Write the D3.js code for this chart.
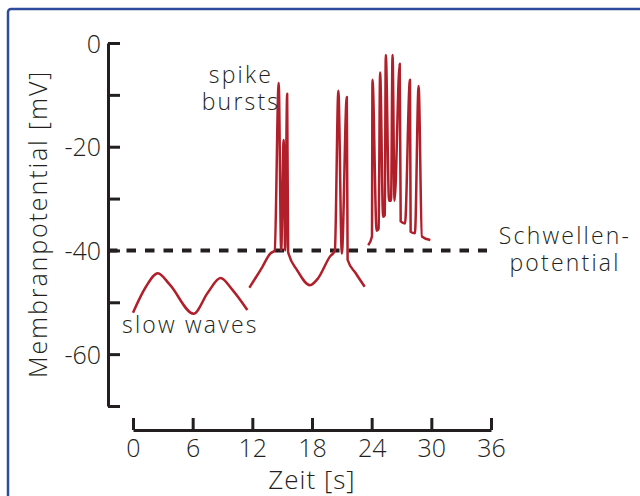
<!DOCTYPE html>
<html>
<head>
<meta charset="utf-8">
<script src="https://cdn.jsdelivr.net/npm/d3@7"></script>
<style>
  body { margin: 0; background: #fff; }
  svg { display: block; }
  text { font-family: 'Open Sans', sans-serif; font-weight: 300; fill: #231f20; }
</style>
</head>
<body>
<svg id="chart"></svg>
<script>
const width = 640
const height = 496

// time [s], membrane potential [mV]
const slowWaves = [
  [0, -52], [1.3, -47.0], [2.5, -44.4], [3.7, -46.6], [6.1, -52.2],
  [7.5, -48.2], [8.8, -45.3], [10.0, -47.6], [11.5, -51.5],
]
const burstTrace1 = [
  [11.7, -47.2], [13.0, -43.2], [13.8, -40.6], [14.25, -40],
  [14.65, -7.7], [14.9, -40], [15.15, -18.7], [15.3, -40],
  [15.5, -9.8], [15.6, -40.3], [16.5, -43.8], [17.8, -46.7],
  [18.6, -45.4], [19.8, -41.2], [20.3, -40], [20.65, -9.2],
  [21.0, -40.6], [21.5, -10.4], [21.58, -41.8], [22.4, -44.4], [23.3, -47],
]
const burstTrace2 = [
  [23.65, -39], [24.03, -37.3], [24.08, -7.1], [24.5, -36.2],
  [24.7, -35.8], [24.85, -5.7], [25.15, -33.5], [25.32, -33.2],
  [25.42, -2.3], [25.75, -30.4], [25.95, -30.4], [26.1, -2.3],
  [26.3, -30.4], [26.82, -4.0], [26.92, -34.4], [27.35, -34.8],
  [27.85, -7.1], [27.92, -36.4], [28.35, -36.7], [28.72, -8.3],
  [29.05, -37.3], [29.9, -38],
]
const thresholdV = -40
const thresholdEnd = 35.6

const xTicks = [0, 6, 12, 18, 24, 30, 36]
const yTicks = [0, -10, -20, -30, -40, -50, -60, -70]
const yLabelTicks = [0, -20, -40, -60]

const svg = d3.select('#chart')
  .attr('width', width)
  .attr('height', height)

// blue frame
svg.append('rect')
  .attr('x', 8).attr('y', 9)
  .attr('width', 700).attr('height', 600)
  .attr('rx', 3)
  .attr('fill', '#fff')
  .attr('stroke', '#2f4c9c')
  .attr('stroke-width', 2.5)

const x = d3.scaleLinear().domain([0, 36]).range([133, 491])
const y = d3.scaleLinear().domain([-70, 0]).range([406, 43])
const yAxisX = 108
const xAxisY = 430

// --------------------------------------------------------------
// Axes
const yAxis = svg.append('g')
  .attr('transform', `translate(${yAxisX},0)`)
  .call(d3.axisLeft(y)
    .tickValues(yTicks)
    .tickSizeInner(-12)
    .tickSizeOuter(0)
    .tickPadding(7)
    .tickFormat((d) => (yLabelTicks.includes(d) ? d : '')))

const xAxis = svg.append('g')
  .attr('transform', `translate(0,${xAxisY})`)
  .call(d3.axisBottom(x)
    .tickValues(xTicks)
    .tickSizeInner(-12)
    .tickSizeOuter(0)
    .tickPadding(9))

;[yAxis, xAxis].forEach((g) => {
  g.select('.domain').attr('stroke', '#231f20').attr('stroke-width', 3)
  g.selectAll('.tick line').attr('stroke', '#231f20').attr('stroke-width', 3)
  g.selectAll('.tick text')
    .attr('font-family', "'Open Sans', sans-serif")
    .attr('font-weight', 300)
    .attr('font-size', 25)
    .attr('fill', '#231f20')
})
yAxis.selectAll('.tick text').attr('dy', '0.36em')

svg.append('text')
  .attr('x', (x(0) + x(36)) / 2)
  .attr('y', 489)
  .attr('text-anchor', 'middle')
  .attr('font-size', 26)
  .attr('letter-spacing', 1)
  .text('Zeit [s]')

svg.append('text')
  .attr('transform', 'translate(47,224) rotate(-90)')
  .attr('text-anchor', 'middle')
  .attr('font-size', 25)
  .attr('letter-spacing', 1.9)
  .text('Membranpotential [mV]')

// --------------------------------------------------------------
// Threshold
svg.append('line')
  .attr('x1', yAxisX)
  .attr('x2', x(thresholdEnd))
  .attr('y1', y(thresholdV))
  .attr('y2', y(thresholdV))
  .attr('stroke', '#231f20')
  .attr('stroke-width', 4)
  .attr('stroke-dasharray', '9.5 9')

// --------------------------------------------------------------
// Traces
const line = d3.line()
  .x((d) => x(d[0]))
  .y((d) => y(d[1]))
  .curve(d3.curveMonotoneX)

svg.append('g')
  .selectAll('path')
  .data([slowWaves, burstTrace1, burstTrace2])
  .join('path')
  .attr('d', line)
  .attr('fill', 'none')
  .attr('stroke', '#b01f2a')
  .attr('stroke-width', 2.5)
  .attr('stroke-linejoin', 'round')

// --------------------------------------------------------------
// Annotations
const notes = [
  { x: 241, y: 83, text: 'spike', anchor: 'middle' },
  { x: 241, y: 110, text: 'bursts', anchor: 'middle' },
  { x: 122, y: 333, text: 'slow waves', anchor: 'start' },
  { x: 565, y: 244, text: 'Schwellen-', anchor: 'middle' },
  { x: 565, y: 271, text: 'potential', anchor: 'middle' },
]
svg.append('g')
  .selectAll('text')
  .data(notes)
  .join('text')
  .attr('x', (d) => d.x)
  .attr('y', (d) => d.y)
  .attr('text-anchor', (d) => d.anchor)
  .attr('font-size', 23)
  .attr('letter-spacing', 2.2)
  .text((d) => d.text)
</script>
</body>
</html>
